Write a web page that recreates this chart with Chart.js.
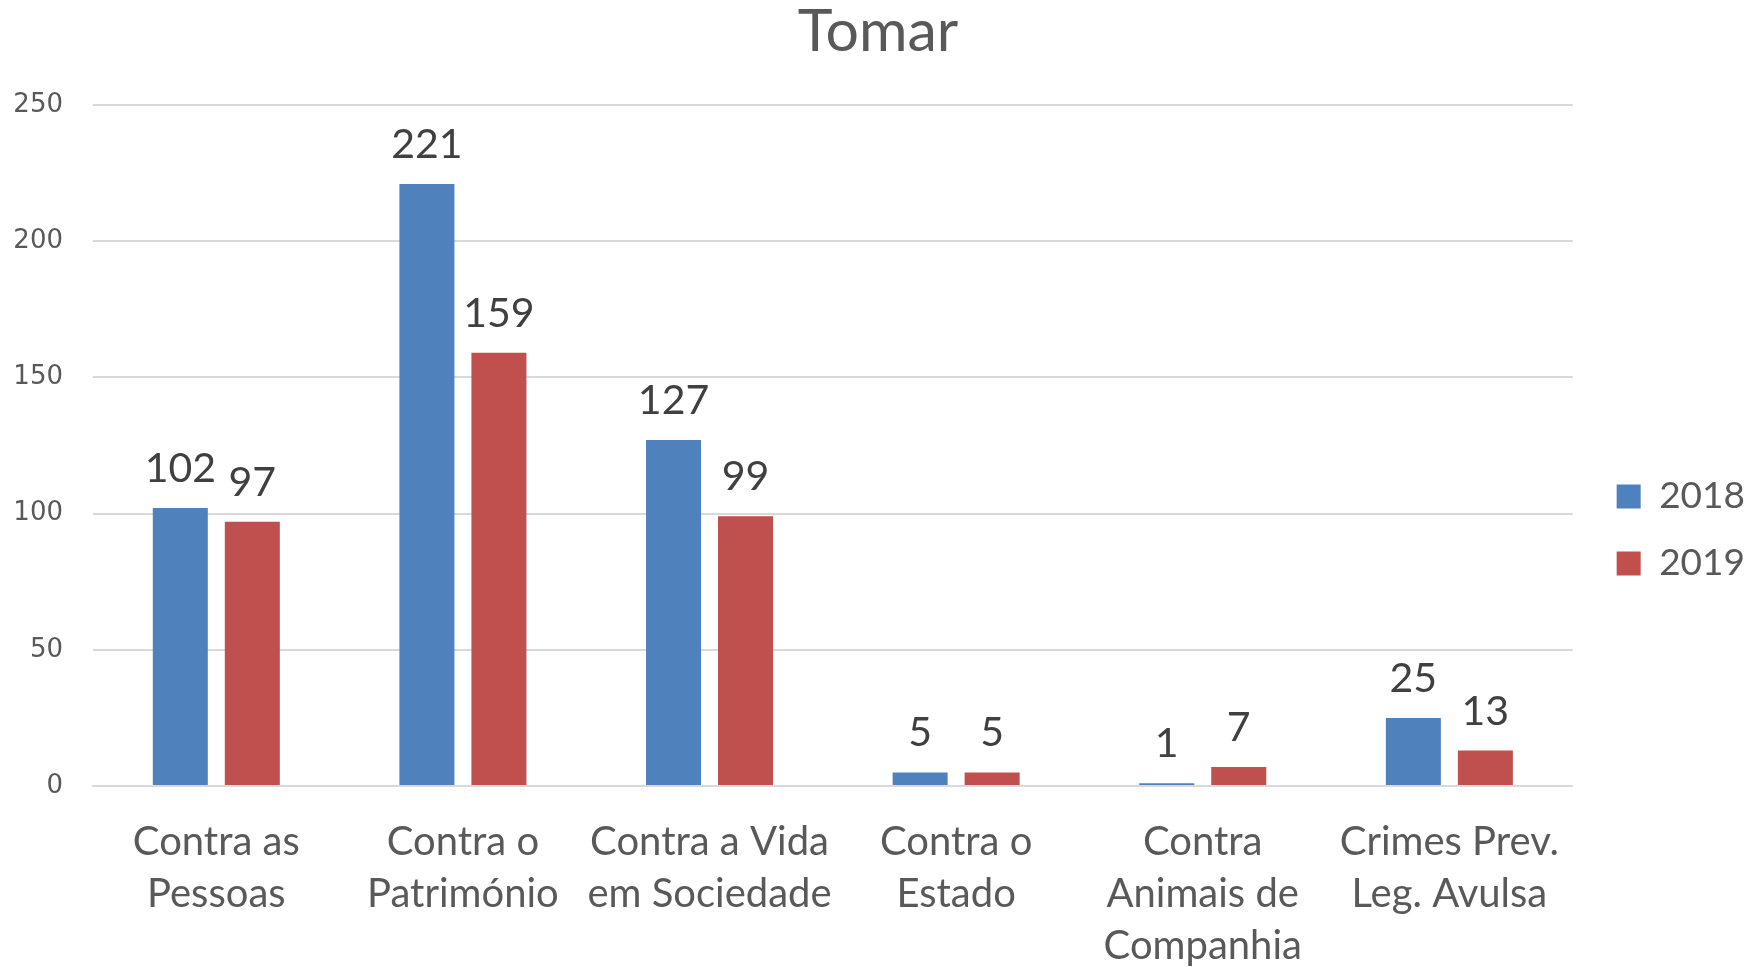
<!DOCTYPE html>
<html>
<head>
<meta charset="utf-8">
<script src="https://cdn.jsdelivr.net/npm/chart.js@4.4.0/dist/chart.umd.min.js"></script>
<style>
  html, body { margin: 0; padding: 0; background: #ffffff; }
  #wrap { width: 1756px; height: 967px; position: relative; }
</style>
</head>
<body>
<div id="wrap"><canvas id="c" width="1756" height="967"></canvas></div>
<script>
const categories = [
  ["Contra as", "Pessoas"],
  ["Contra o", "Património"],
  ["Contra a Vida", "em Sociedade"],
  ["Contra o", "Estado"],
  ["Contra", "Animais de", "Companhia"],
  ["Crimes Prev.", "Leg. Avulsa"]
];
const seriesNames = ["2018", "2019"];
const values2018 = [102, 221, 127, 5, 1, 25];
const values2019 = [97, 159, 99, 5, 7, 13];
const yTicks = [0, 50, 100, 150, 200, 250];
const chartTitle = "Tomar";

const GRID = '#d9d9d9';
const TEXT = '#595959';

const valueLabels = {
  id: 'valueLabels',
  afterDatasetsDraw(chart) {
    const ctx = chart.ctx;
    ctx.save();
    ctx.font = '41px Lato';
    ctx.fillStyle = '#404040';
    ctx.textAlign = 'center';
    ctx.textBaseline = 'alphabetic';
    chart.data.datasets.forEach((ds, i) => {
      const meta = chart.getDatasetMeta(i);
      meta.data.forEach((bar, j) => {
        ctx.fillText(String(ds.data[j]), bar.x, bar.y - 26);
      });
    });
    ctx.restore();
  }
};

const layoutTweak = {
  id: 'layoutTweak',
  afterLayout(chart) {
    const lg = chart.legend;
    if (lg) {
      const d = chart.chartArea.right + 14 - lg.left;
      lg.left += d; lg.right += d;
      lg.top = chart.chartArea.top - 12;
    }
    const tb = chart.titleBlock;
    if (tb) { tb.left = 0; tb.right = chart.width; }
  }
};

new Chart(document.getElementById('c'), {
  type: 'bar',
  data: {
    labels: categories,
    datasets: [
      { label: seriesNames[0], data: values2018, backgroundColor: '#4F81BD', borderWidth: 0 },
      { label: seriesNames[1], data: values2019, backgroundColor: '#C0504D', borderWidth: 0 }
    ]
  },
  options: {
    responsive: false,
    animation: false,
    devicePixelRatio: 1,
    categoryPercentage: 0.584,
    barPercentage: 0.764,
    layout: { padding: { left: 0, right: 15, top: 0, bottom: 0 } },
    plugins: {
      title: {
        display: true,
        text: chartTitle,
        color: TEXT,
        font: { family: 'Lato', size: 59, weight: 'normal', lineHeight: 1.1 },
        padding: { top: 0, bottom: 40 }
      },
      legend: {
        display: true,
        position: 'right',
        align: 'center',
        labels: {
          boxWidth: 24,
          boxHeight: 24,
          padding: 30,
          color: TEXT,
          font: { family: 'Lato', size: 37 }
        }
      },
      tooltip: { enabled: false }
    },
    scales: {
      x: {
        grid: { display: false, drawTicks: false },
        border: { display: true, color: GRID, width: 2 },
        ticks: {
          color: TEXT,
          font: { family: 'Lato', size: 40, lineHeight: 1.3 },
          padding: 30,
          autoSkip: false,
          maxRotation: 0,
          minRotation: 0
        },
        afterFit(scale) { scale.height = 181; }
      },
      y: {
        min: yTicks[0],
        max: yTicks[yTicks.length - 1],
        grid: { color: GRID, lineWidth: 2, drawTicks: false },
        border: { display: false },
        afterBuildTicks(scale) { scale.ticks = yTicks.map(v => ({ value: v })); },
        ticks: {
          color: TEXT,
          font: { family: 'DejaVu Sans', size: 26 },
          padding: 30
        },
        afterFit(scale) { scale.width = 93; }
      }
    }
  },
  plugins: [valueLabels, layoutTweak]
});
</script>
</body>
</html>
